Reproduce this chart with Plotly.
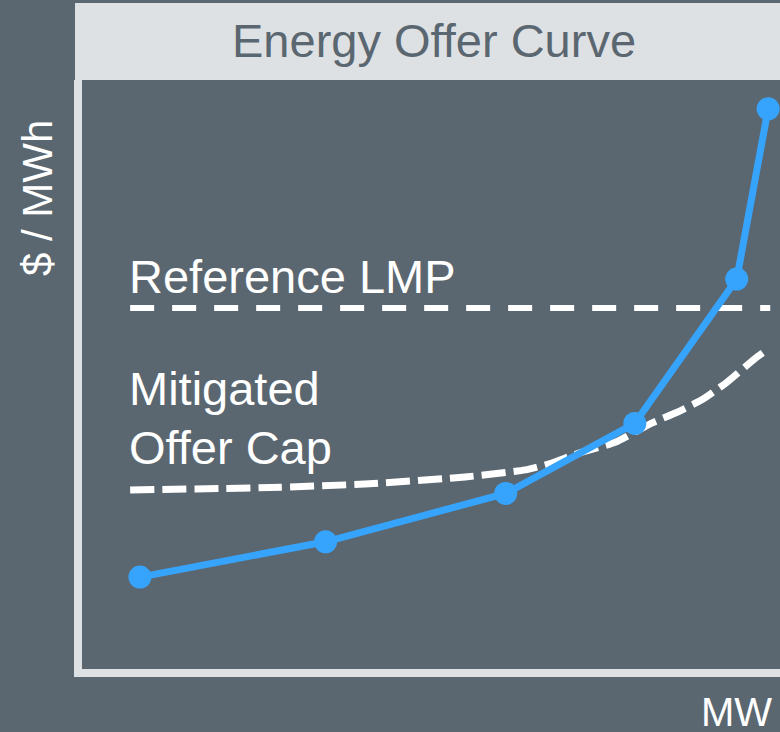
import plotly.graph_objects as go

# ---- data ----
mw = [8.3, 34.9, 60.7, 79.2, 93.8, 98.3]
price = [15.6, 21.6, 29.8, 41.7, 66.2, 95.1]

ref_lmp_x = [6.9, 98.6]
ref_lmp_y = [61.3, 61.3]

cap_x = [6.9, 26.9, 40.5, 54.9, 63.5, 66.8, 71.3, 76.4, 81.7, 85.1, 88.8, 92.4, 96.3, 97.9]
cap_y = [30.4, 30.8, 31.4, 32.6, 33.8, 34.8, 36.7, 38.5, 41.8, 43.5, 45.7, 48.7, 52.6, 54.0]

title_text = "Energy Offer Curve"
y_label = "$ / MWh"
x_label = "MW"
lmp_label = "Reference LMP"
cap_label = ["Mitigated", "Offer Cap"]

BG = "#5b6770"
BAR = "#dee1e4"
BLUE = "#36a4fc"
FONT = "Liberation Sans, Arial, sans-serif"

W, H = 780, 732
PL, PT, PR, PB = 82, 80, 780, 669  # plot area in page pixels
L, T = PL, PT
R, B = W - PR, H - PB
pw, ph = PR - PL, PB - PT

def px(x):
    return (x - PL) / pw

def py(y):
    return (PB - y) / ph

fig = go.Figure()

fig.add_trace(go.Scatter(
    x=ref_lmp_x, y=ref_lmp_y, mode="lines",
    line=dict(color="white", width=6, dash="24px,18px"),
    hoverinfo="skip", cliponaxis=False))

fig.add_trace(go.Scatter(
    x=cap_x, y=cap_y, mode="lines",
    line=dict(color="white", width=7, dash="24px,8px", shape="spline", smoothing=0.5),
    hoverinfo="skip", cliponaxis=False))

fig.add_trace(go.Scatter(
    x=mw, y=price, mode="lines+markers",
    line=dict(color=BLUE, width=7),
    marker=dict(color=BLUE, size=23),
    hoverinfo="skip", cliponaxis=False))

shapes = [
    dict(type="rect", xref="paper", yref="paper",
         x0=px(75), x1=1.0, y0=1.0, y1=py(3),
         fillcolor=BAR, line=dict(width=0), layer="below"),
    dict(type="path", xref="paper", yref="paper",
         path=f"M {px(78)},{py(80)} L {px(78)},{py(673)} L 1.0,{py(673)}",
         line=dict(color=BAR, width=8)),
]

annotations = [
    dict(text=title_text, xref="paper", yref="paper", x=px(434), y=py(40),
         xanchor="center", yanchor="middle", showarrow=False,
         font=dict(family=FONT, size=47, color=BG)),
    dict(text=y_label, xref="paper", yref="paper", x=px(37), y=py(198),
         xanchor="center", yanchor="middle", textangle=-90, showarrow=False,
         font=dict(family=FONT, size=42, color="white")),
    dict(text=x_label, xref="paper", yref="paper", x=px(774), y=py(712),
         xanchor="right", yanchor="middle", showarrow=False,
         font=dict(family=FONT, size=40, color="white")),
    dict(text=lmp_label, x=6.4, y=66.7, xanchor="left", yanchor="middle",
         showarrow=False, font=dict(family=FONT, size=47, color="white")),
    dict(text=cap_label[0], x=6.4, y=47.7, xanchor="left", yanchor="middle",
         showarrow=False, font=dict(family=FONT, size=47, color="white")),
    dict(text=cap_label[1], x=6.4, y=37.6, xanchor="left", yanchor="middle",
         showarrow=False, font=dict(family=FONT, size=47, color="white")),
]

fig.update_layout(
    width=W, height=H,
    margin=dict(l=L, r=R, t=T, b=B, pad=0),
    paper_bgcolor=BG, plot_bgcolor=BG,
    showlegend=False,
    shapes=shapes, annotations=annotations,
    xaxis=dict(range=[0, 100], visible=False, fixedrange=True),
    yaxis=dict(range=[0, 100], visible=False, fixedrange=True),
)

page_css = (
    "document.body.style.margin='0';"
    "document.body.style.padding='0';"
    "document.body.style.overflow='hidden';"
    f"document.body.style.background='{BG}';"
)

fig.write_html("out.html", config={"displayModeBar": False}, post_script=page_css)
